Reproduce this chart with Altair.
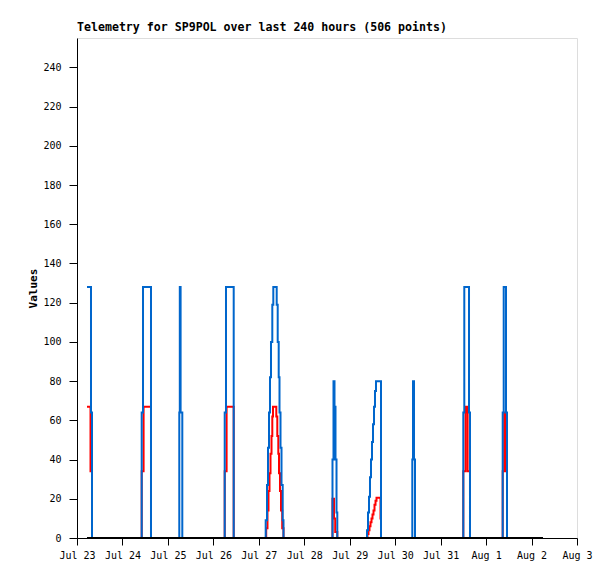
import altair as alt
import pandas as pd

BASE = pd.Timestamp("2023-07-23 00:00")

TITLE = "Telemetry for SP9POL over last 240 hours (506 points)"

# hours since Jul 23 00:00 and values (step changes)
blue_hours = [5.28, 7.39, 7.92,
              34.16, 34.85, 39.07,
              54.01, 54.28, 54.70, 55.60,
              77.99, 78.67, 82.74,
              99.63, 100.32, 100.85, 101.38, 101.90, 102.43, 103.12, 103.65,
              105.44, 105.97, 106.50, 106.92, 107.45, 107.98, 108.61, 109.03,
              134.90, 135.43, 135.96, 136.49, 137.02, 137.44,
              153.12, 153.65, 154.18, 154.70, 155.23, 155.76, 156.29, 156.82, 157.34, 157.87, 160.51,
              177.04, 177.41, 177.94, 178.46,
              203.97, 204.49, 206.98, 207.50,
              224.77, 225.30, 226.51, 227.04]
blue_values = [128, 64, 0,
               64, 128, 0,
               64, 128, 64, 0,
               64, 128, 0,
               9, 27, 46, 64, 82, 100, 119, 128,
               119, 100, 82, 64, 46, 27, 9, 0,
               40, 80, 67, 40, 13, 0,
               4, 13, 21, 31, 40, 49, 58, 67, 75, 80, 0,
               40, 80, 40, 0,
               64, 128, 64, 0,
               64, 128, 64, 0]

red_hours = [5.28, 7.13, 7.92,
             34.16, 35.16, 39.07,
             77.99, 78.99, 82.74,
             99.90, 100.58, 101.11, 101.64, 102.17, 102.70, 103.12, 103.49,
             105.23, 105.76, 106.29, 106.66, 107.18, 107.71, 108.35, 109.03,
             134.90, 135.70, 136.33, 137.44,
             153.38, 153.91, 154.44, 154.97, 155.50, 156.02, 156.55, 157.08, 157.61, 158.14, 160.25, 160.51,
             203.97, 205.14, 205.30, 206.25, 207.50,
             224.77, 225.56, 226.14, 227.04]
red_values = [67, 34, 0,
              34, 67, 0,
              34, 67, 0,
              5, 14, 24, 33, 43, 52, 62, 67,
              62, 52, 43, 33, 24, 14, 5, 0,
              20, 10, 3, 0,
              2, 4, 6, 8, 10, 12, 14, 17, 19, 20.5, 10, 0,
              34, 64, 67, 34, 0,
              34, 64, 34, 0]

black_hours = [5.28, 246.05]
black_values = [0, 0]

y_ticks = list(range(0, 241, 20))


def frame(hours, values):
    return pd.DataFrame({"time": BASE + pd.to_timedelta(hours, unit="h"), "value": values})


FONT = "DejaVu Sans Mono"

x_enc = alt.X(
    "time:T",
    scale=alt.Scale(domain=[alt.DateTime(year=2023, month=7, date=23),
                            alt.DateTime(year=2023, month=8, date=3)]),
    axis=alt.Axis(title=None, format="%b %-d",
                  tickCount=alt.TimeIntervalStep(interval="day", step=1),
                  grid=False, labelFlush=False, labelOverlap=False,
                  tickSize=7, labelPadding=5, domainColor="black", tickColor="black",
                  labelColor="black", labelFont=FONT, labelFontSize=10),
)
y_enc = alt.Y(
    "value:Q",
    scale=alt.Scale(domain=[0, 255], nice=False),
    axis=alt.Axis(title="Values", values=y_ticks, grid=False,
                  tickSize=8, labelPadding=8, domainColor="black", tickColor="black",
                  labelColor="black", labelFont=FONT, labelFontSize=10,
                  titleFont=FONT, titleFontSize=11, titleFontWeight="bold",
                  titleColor="black", titlePadding=4),
)

red = alt.Chart(frame(red_hours, red_values)).mark_line(
    interpolate="step-after", color="#FF0000", strokeWidth=2).encode(x=x_enc, y=y_enc)
blue = alt.Chart(frame(blue_hours, blue_values)).mark_line(
    interpolate="step-after", color="#0066CC", strokeWidth=2).encode(x=x_enc, y=y_enc)
black = alt.Chart(frame(black_hours, black_values)).mark_line(
    interpolate="step-after", color="#000000", strokeWidth=2).encode(x=x_enc, y=y_enc)

chart = alt.layer(red, blue, black).properties(
    width=500, height=500,
    title=alt.TitleParams(text=TITLE, anchor="start", frame="group", font=FONT,
                          fontSize=11.6, fontWeight="bold", color="black", offset=4),
    autosize=alt.AutoSizeParams(type="none"),
    padding={"left": 69, "top": 30, "right": 30, "bottom": 33},
).configure_view(stroke="#555555", strokeWidth=1).configure(background="white")

chart.save("out.html", embed_options={"renderer": "svg", "actions": False})
